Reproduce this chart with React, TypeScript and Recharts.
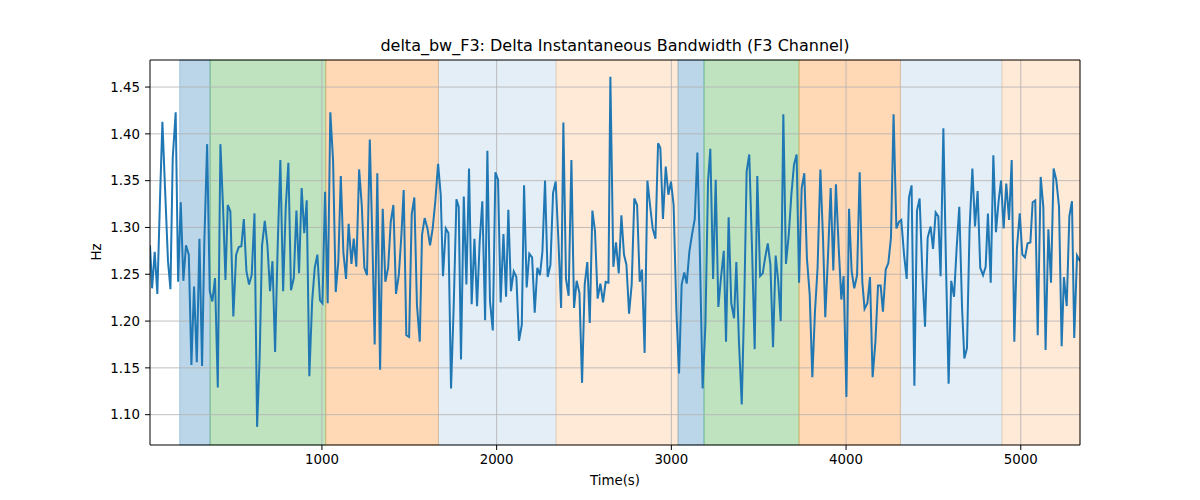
import {
  LineChart,
  Line,
  XAxis,
  YAxis,
  ReferenceArea,
  ReferenceLine,
} from 'recharts'

// sample times (s) and delta bandwidth (Hz)
const times = [
  16, 28, 43, 58, 74, 87, 102, 119, 133, 146, 163, 177, 192, 207, 222, 238, 253, 268, 284, 299,
  314, 327, 343, 358, 373, 388, 404, 419, 434, 448, 461, 476, 493, 509, 524, 539, 553, 568, 583, 598,
  614, 629, 644, 657, 673, 688, 703, 717, 732, 747, 762, 778, 793, 808, 823, 839, 854, 869, 884, 899,
  913, 928, 944, 959, 974, 989, 1003, 1018, 1033, 1048, 1064, 1079, 1094, 1108, 1123, 1138, 1153, 1169, 1182, 1197,
  1213, 1228, 1243, 1258, 1274, 1289, 1302, 1317, 1333, 1348, 1363, 1379, 1394, 1409, 1424, 1440, 1455, 1468, 1483, 1499,
  1514, 1529, 1544, 1560, 1573, 1588, 1604, 1619, 1634, 1649, 1665, 1680, 1693, 1709, 1724, 1739, 1754, 1770, 1783,
  1796, 1812, 1827, 1842, 1857, 1873, 1888, 1903, 1918, 1934, 1947, 1962, 1978, 1993, 2008, 2023, 2039, 2054, 2067, 2082,
  2098, 2113, 2128, 2144, 2157, 2172, 2187, 2203, 2218, 2233, 2248, 2262, 2277, 2292, 2308, 2323, 2338, 2353, 2369, 2382,
  2397, 2412, 2428, 2443, 2458, 2474, 2489, 2504, 2519, 2533, 2548, 2563, 2578, 2594, 2609, 2624, 2640, 2651,
  2668, 2683, 2699, 2714, 2729, 2743, 2758, 2773, 2788, 2804, 2819, 2832, 2847, 2863, 2878, 2893, 2909, 2924, 2937, 2952,
  2968, 2983, 2998, 3013, 3029, 3044, 3059, 3074, 3088, 3103, 3118, 3134, 3149, 3162, 3179, 3195, 3210, 3223, 3239, 3254,
  3269, 3284, 3300, 3313, 3328, 3343, 3359, 3372, 3387, 3403, 3418, 3431, 3446, 3462, 3477, 3492, 3508, 3523, 3538, 3552,
  3567, 3582, 3597, 3612, 3626, 3641, 3656, 3672, 3687, 3702, 3717, 3731, 3746, 3761, 3776, 3792, 3807, 3822, 3837, 3853,
  3868, 3881, 3897, 3912, 3927, 3942, 3958, 3973, 3986, 4002, 4017, 4032, 4047, 4063, 4078, 4093, 4106, 4122, 4137, 4152,
  4168, 4183, 4198, 4211, 4227, 4242, 4257, 4272, 4288, 4303, 4316, 4332, 4347, 4360, 4375, 4391, 4406, 4421,
  4437, 4452, 4467, 4484, 4498, 4513, 4528, 4541, 4557, 4572, 4587, 4602, 4618, 4633, 4648, 4664, 4677, 4692, 4707, 4723,
  4738, 4753, 4768, 4784, 4799, 4812, 4828, 4843, 4858, 4873, 4887, 4902, 4917, 4933, 4948, 4963, 4978, 4994, 5009, 5024,
  5039, 5055, 5068, 5083, 5097, 5114, 5129, 5142, 5158, 5173, 5188, 5203, 5219, 5234, 5247, 5263, 5278, 5293, 5306, 5322,
  5339,
]

const hz = [
  1.281, 1.235, 1.274, 1.229, 1.335, 1.413, 1.342, 1.264, 1.234, 1.374, 1.423, 1.242, 1.327, 1.243, 1.281, 1.271, 1.153, 1.237, 1.156, 1.288,
  1.152, 1.285, 1.389, 1.232, 1.221, 1.246, 1.129, 1.389, 1.322, 1.244, 1.324, 1.317, 1.205, 1.271, 1.279, 1.28, 1.309, 1.253, 1.239, 1.249,
  1.315, 1.087, 1.164, 1.28, 1.307, 1.281, 1.232, 1.264, 1.167, 1.281, 1.372, 1.232, 1.322, 1.369, 1.233, 1.246, 1.318, 1.251, 1.342, 1.294,
  1.329, 1.141, 1.221, 1.257, 1.271, 1.222, 1.219, 1.338, 1.219, 1.423, 1.371, 1.231, 1.264, 1.355, 1.273, 1.245, 1.304, 1.261, 1.288, 1.258,
  1.362, 1.324, 1.257, 1.249, 1.394, 1.285, 1.175, 1.358, 1.148, 1.32, 1.242, 1.257, 1.306, 1.324, 1.229, 1.249, 1.292, 1.34, 1.185, 1.183,
  1.314, 1.332, 1.217, 1.178, 1.292, 1.31, 1.299, 1.281, 1.299, 1.328, 1.368, 1.335, 1.248, 1.299, 1.294, 1.128, 1.214, 1.33, 1.322,
  1.159, 1.333, 1.239, 1.363, 1.218, 1.288, 1.216, 1.285, 1.328, 1.201, 1.382, 1.221, 1.19, 1.359, 1.351, 1.22, 1.293, 1.226, 1.319, 1.232,
  1.253, 1.247, 1.179, 1.196, 1.345, 1.236, 1.272, 1.268, 1.209, 1.257, 1.249, 1.274, 1.35, 1.247, 1.26, 1.337, 1.349, 1.289, 1.214, 1.412,
  1.245, 1.227, 1.372, 1.214, 1.243, 1.23, 1.134, 1.239, 1.263, 1.198, 1.318, 1.296, 1.224, 1.24, 1.22, 1.242, 1.241, 1.461,
  1.258, 1.284, 1.251, 1.313, 1.271, 1.26, 1.208, 1.239, 1.331, 1.324, 1.242, 1.255, 1.166, 1.35, 1.324, 1.299, 1.288, 1.39, 1.385, 1.309,
  1.365, 1.335, 1.349, 1.324, 1.21, 1.144, 1.239, 1.252, 1.24, 1.274, 1.292, 1.309, 1.38, 1.285, 1.128, 1.196, 1.349, 1.384, 1.245, 1.351,
  1.215, 1.246, 1.275, 1.178, 1.311, 1.219, 1.203, 1.263, 1.178, 1.111, 1.227, 1.36, 1.378, 1.276, 1.17, 1.355, 1.248, 1.251, 1.269, 1.283,
  1.26, 1.172, 1.27, 1.242, 1.2, 1.421, 1.261, 1.292, 1.335, 1.367, 1.378, 1.241, 1.342, 1.358, 1.267, 1.228, 1.14, 1.21, 1.257, 1.362,
  1.289, 1.204, 1.271, 1.342, 1.254, 1.346, 1.278, 1.223, 1.248, 1.119, 1.32, 1.253, 1.235, 1.249, 1.359, 1.242, 1.213, 1.219, 1.247, 1.14,
  1.178, 1.238, 1.238, 1.21, 1.255, 1.262, 1.289, 1.421, 1.299, 1.306, 1.308, 1.271, 1.245, 1.332, 1.345, 1.131, 1.318, 1.331,
  1.25, 1.194, 1.289, 1.301, 1.277, 1.316, 1.312, 1.248, 1.406, 1.26, 1.133, 1.243, 1.226, 1.278, 1.322, 1.214, 1.16, 1.171, 1.299, 1.363,
  1.301, 1.339, 1.257, 1.249, 1.258, 1.315, 1.241, 1.377, 1.295, 1.328, 1.35, 1.299, 1.347, 1.308, 1.372, 1.178, 1.278, 1.315, 1.271, 1.268,
  1.283, 1.284, 1.327, 1.329, 1.185, 1.354, 1.322, 1.169, 1.298, 1.241, 1.363, 1.351, 1.322, 1.173, 1.247, 1.216, 1.312, 1.328, 1.182, 1.27,
  1.264,
]

// shaded segments
const segStart = [186, 360, 1022, 1667, 2340, 3038, 3187, 3731, 4311, 4892]
const segEnd = [360, 1022, 1667, 2340, 3038, 3187, 3731, 4311, 4892, 5339]
const segColor = [
  '#1f77b4', '#2ca02c', '#ff7f0e', '#1f77b4', '#ff7f0e',
  '#1f77b4', '#2ca02c', '#ff7f0e', '#1f77b4', '#ff7f0e',
]
const segAlpha = [0.3, 0.3, 0.3, 0.12, 0.16, 0.3, 0.3, 0.3, 0.12, 0.16]

const xTicks = [1000, 2000, 3000, 4000, 5000]
const yTicks = [1.1, 1.15, 1.2, 1.25, 1.3, 1.35, 1.4, 1.45]

const X_MIN = 16
const X_MAX = 5339
const Y_MIN = 1.0676
const Y_MAX = 1.4789

const data = times.map((t, i) => ({ t, v: hz[i] }))

const font = 'DejaVu Sans, sans-serif'
const tickStyle = { fontSize: 13.33, fill: '#000', fontFamily: font }

export default function App() {
  return (
    <div style={{ position: 'absolute', left: 0, top: 0, width: 1200, height: 500, background: '#fff', fontFamily: font }}>
      <LineChart width={1200} height={500} data={data} margin={{ top: 60, right: 120, left: 0, bottom: 0 }}>
        <XAxis
          dataKey="t"
          type="number"
          domain={[X_MIN, X_MAX]}
          allowDataOverflow
          ticks={xTicks}
          height={55}
          tick={tickStyle}
          tickSize={5}
          tickMargin={5}
          axisLine={{ stroke: '#000', strokeWidth: 1 }}
          tickLine={{ stroke: '#000' }}
        />
        <YAxis
          type="number"
          domain={[Y_MIN, Y_MAX]}
          allowDataOverflow
          ticks={yTicks}
          width={150}
          tick={tickStyle}
          tickSize={5}
          tickMargin={5}
          tickFormatter={(v: number) => v.toFixed(2)}
          axisLine={{ stroke: '#000', strokeWidth: 1 }}
          tickLine={{ stroke: '#000' }}
        />
        {segStart.map((s, i) => (
          <ReferenceArea
            key={'seg' + i}
            x1={s}
            x2={segEnd[i]}
            y1={Y_MIN}
            y2={Y_MAX}
            fill={segColor[i]}
            fillOpacity={segAlpha[i]}
            stroke={segColor[i]}
            strokeOpacity={segAlpha[i]}
            strokeWidth={1}
          />
        ))}
        {xTicks.map(t => (
          <ReferenceLine key={'gx' + t} x={t} stroke="#b0b0b0" strokeWidth={0.8} />
        ))}
        {yTicks.map(t => (
          <ReferenceLine key={'gy' + t} y={t} stroke="#b0b0b0" strokeWidth={0.8} />
        ))}
        <Line
          dataKey="v"
          type="linear"
          stroke="#1f77b4"
          strokeWidth={2}
          dot={false}
          isAnimationActive={false}
        />
        {/* top and right spines */}
        <ReferenceLine y={Y_MAX} stroke="#000" strokeWidth={1} />
        <ReferenceLine x={X_MAX} stroke="#000" strokeWidth={1} />
      </LineChart>
      <div style={{ position: 'absolute', left: 150, top: 36, width: 930, textAlign: 'center', fontSize: 16, lineHeight: '20px', color: '#000' }}>
        delta_bw_F3: Delta Instantaneous Bandwidth (F3 Channel)
      </div>
      <div style={{ position: 'absolute', left: 150, top: 473, width: 930, textAlign: 'center', fontSize: 13.33, lineHeight: '16px', color: '#000' }}>
        Time(s)
      </div>
      <div
        style={{
          position: 'absolute',
          left: 97,
          top: 252,
          fontSize: 13.33,
          lineHeight: '16px',
          color: '#000',
          transform: 'translate(-50%, -50%) rotate(-90deg)',
        }}
      >
        Hz
      </div>
    </div>
  )
}
